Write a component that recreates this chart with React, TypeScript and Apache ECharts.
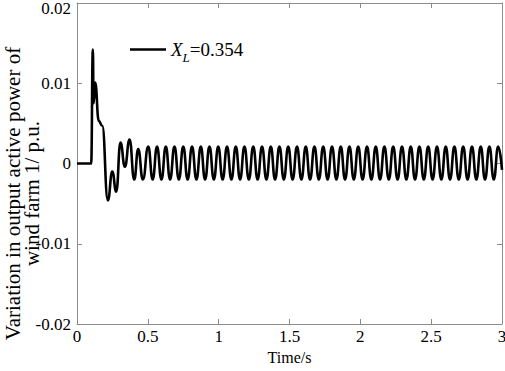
import React, { useEffect, useRef } from "react";
import * as echarts from "echarts";

// Transient part (time in s, value in p.u.)
const transientTimes = [0, 0.1, 0.112, 0.117, 0.128, 0.154, 0.178, 0.218, 0.249, 0.277, 0.307, 0.338, 0.371, 0.404, 0.432, 0.465];
const transientValues = [0, 0, 0.0142, 0.0075, 0.0101, 0.0053, 0.0047, -0.0046, -0.001, -0.0035, 0.0026, -0.0004, 0.003, -0.002, 0.0018, -0.002];

// Sustained oscillation: peaks and troughs
const peakTimes = [0.503, 0.565, 0.627, 0.688, 0.75, 0.812, 0.874, 0.935, 0.997, 1.059, 1.121, 1.182, 1.244, 1.306, 1.368, 1.429, 1.491, 1.553, 1.615, 1.676, 1.738, 1.8, 1.862, 1.923, 1.985, 2.047, 2.109, 2.17, 2.232, 2.294, 2.356, 2.417, 2.479, 2.541, 2.603, 2.664, 2.726, 2.788, 2.85, 2.911, 2.973];
const peakValues = [0.0021, 0.0021, 0.0021, 0.0021, 0.0021, 0.0021, 0.0021, 0.0021, 0.0021, 0.0021, 0.0021, 0.0021, 0.0021, 0.0021, 0.0021, 0.0021, 0.0021, 0.0021, 0.0021, 0.0021, 0.0021, 0.0021, 0.0021, 0.0021, 0.0021, 0.0021, 0.0021, 0.0021, 0.0021, 0.0021, 0.0021, 0.0021, 0.0021, 0.0021, 0.0021, 0.0021, 0.0021, 0.0021, 0.0021, 0.0021, 0.0021];
const troughTimes = [0.534, 0.596, 0.657, 0.719, 0.781, 0.843, 0.904, 0.966, 1.028, 1.09, 1.151, 1.213, 1.275, 1.337, 1.398, 1.46, 1.522, 1.584, 1.645, 1.707, 1.769, 1.831, 1.892, 1.954, 2.016, 2.078, 2.139, 2.201, 2.263, 2.325, 2.386, 2.448, 2.51, 2.572, 2.633, 2.695, 2.757, 2.819, 2.88, 2.942];
const troughValues = [-0.002, -0.002, -0.002, -0.002, -0.002, -0.002, -0.002, -0.002, -0.002, -0.002, -0.002, -0.002, -0.002, -0.002, -0.002, -0.002, -0.002, -0.002, -0.002, -0.002, -0.002, -0.002, -0.002, -0.002, -0.002, -0.002, -0.002, -0.002, -0.002, -0.002, -0.002, -0.002, -0.002, -0.002, -0.002, -0.002, -0.002, -0.002, -0.002, -0.002];
const endTime = 3.0;
const endValue = -0.0008;

const xTicks = [0, 0.5, 1, 1.5, 2, 2.5, 3];
const yTickLabels = ["-0.02", "-0.01", "0", "0.01", "0.02"];
const seriesName = "XL=0.354";

export default function App() {
  const ref = useRef<HTMLDivElement>(null);
  useEffect(() => {
    if (!ref.current) return;
    const chart = echarts.init(ref.current, null, { renderer: "svg" });
    const pts: [number, number][] = [];
    transientTimes.forEach((t, i) => pts.push([t, transientValues[i]]));
    peakTimes.forEach((t, i) => pts.push([t, peakValues[i]]));
    troughTimes.forEach((t, i) => pts.push([t, troughValues[i]]));
    pts.push([endTime, endValue]);
    pts.sort((a, b) => a[0] - b[0]);

    const font = "Liberation Serif";
    const axisGray = "#8c8c8c";
    const yFmt = (v: number) => {
      const idx = Math.round(v / 0.01) + 2;
      const s = yTickLabels[idx] ?? "";
      return idx === 4 ? "{top|" + s + "}" : s;
    };
    chart.setOption({
      animation: false,
      backgroundColor: "#ffffff",
      textStyle: { fontFamily: font },
      grid: { left: 77, right: 3, top: 3, bottom: 47, outerBoundsMode: "none", containLabel: false },
      legend: {
        left: 125,
        top: 35,
        itemWidth: 36,
        itemHeight: 2.5,
        itemGap: 5,
        icon: "rect",
        data: [seriesName],
        formatter: () => "{x|X}{s|L}{n|=0.354}",
        textStyle: {
          fontFamily: font,
          color: "#000",
          rich: {
            x: { fontFamily: font, fontSize: 19, fontStyle: "italic", color: "#000", lineHeight: 22, verticalAlign: "middle" },
            s: { fontFamily: font, fontSize: 13, fontStyle: "italic", color: "#000", lineHeight: 22, verticalAlign: "bottom", padding: [0, 0, -3, 0] },
            n: { fontFamily: font, fontSize: 19, color: "#000", lineHeight: 22, verticalAlign: "middle" },
          },
        },
      },
      xAxis: [
        {
          type: "value",
          min: 0,
          max: 3,
          interval: 0.5,
          position: "bottom",
          name: "Time/s",
          nameLocation: "middle",
          nameGap: 25,
          nameMoveOverlap: false,
          nameTextStyle: { fontFamily: font, fontSize: 16, color: "#000" },
          axisLine: { show: true, onZero: false, lineStyle: { color: axisGray, width: 1 } },
          axisTick: { show: true, inside: true, length: 5, lineStyle: { color: axisGray } },
          axisLabel: {
            fontFamily: font,
            fontSize: 17,
            color: "#000",
            margin: 4,
            showMaxLabel: true,
            formatter: (v: number) => {
              const i = xTicks.indexOf(v);
              return i >= 0 ? String(xTicks[i]) : "";
            },
          },
          splitLine: { show: false },
        },
        {
          type: "value",
          min: 0,
          max: 3,
          interval: 0.5,
          position: "top",
          axisLine: { show: true, onZero: false, lineStyle: { color: axisGray, width: 1 } },
          axisTick: { show: true, inside: true, length: 5, lineStyle: { color: axisGray } },
          axisLabel: { show: false },
          splitLine: { show: false },
        },
      ],
      yAxis: [
        {
          type: "value",
          min: -0.02,
          max: 0.02,
          interval: 0.01,
          position: "left",
          name: "Variation in output active power of\nwind farm 1/ p.u.",
          nameLocation: "middle",
          nameRotate: 90,
          nameGap: 36,
          nameMoveOverlap: false,
          nameTextStyle: { fontFamily: font, fontSize: 21, color: "#000", lineHeight: 19, padding: [0, 60, 0, 0] },
          axisLine: { show: true, onZero: false, lineStyle: { color: axisGray, width: 1 } },
          axisTick: { show: true, inside: true, length: 5, lineStyle: { color: axisGray } },
          axisLabel: {
            fontFamily: font,
            fontSize: 17,
            color: "#000",
            margin: 6,
            showMaxLabel: true,
            formatter: yFmt,
            rich: { top: { fontFamily: font, fontSize: 17, color: "#000", padding: [10, 0, 0, 0] } },
          },
          splitLine: { show: false },
        },
        {
          type: "value",
          min: -0.02,
          max: 0.02,
          interval: 0.01,
          position: "right",
          axisLine: { show: true, onZero: false, lineStyle: { color: axisGray, width: 1 } },
          axisTick: { show: true, inside: true, length: 5, lineStyle: { color: axisGray } },
          axisLabel: { show: false },
          splitLine: { show: false },
        },
      ],
      series: [
        {
          name: seriesName,
          type: "line",
          xAxisIndex: 0,
          yAxisIndex: 0,
          data: pts,
          showSymbol: false,
          symbol: "none",
          smooth: 0.5,
          smoothMonotone: "x",
          lineStyle: { color: "#000", width: 2.6 },
          itemStyle: { color: "#000" },
        },
      ],
    });
    return () => chart.dispose();
  }, []);
  return <div ref={ref} style={{ position: "fixed", left: 0, top: 0, width: 505, height: 371 }} />;
}
